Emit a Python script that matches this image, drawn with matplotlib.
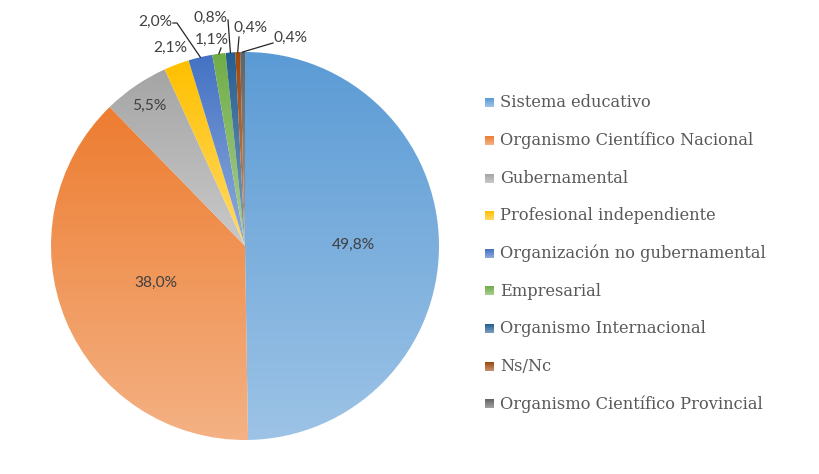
import numpy as np
import matplotlib
matplotlib.use('Agg')
import matplotlib.pyplot as plt
from matplotlib.colors import to_rgb

# datos
categorias = ['Sistema educativo', 'Organismo Científico Nacional', 'Gubernamental',
              'Profesional independiente', 'Organización no gubernamental', 'Empresarial',
              'Organismo Internacional', 'Ns/Nc', 'Organismo Científico Provincial']
valores = [49.8, 38.0, 5.5, 2.1, 2.0, 1.1, 0.8, 0.4, 0.4]
etiquetas = ['49,8%', '38,0%', '5,5%', '2,1%', '2,0%', '1,1%', '0,8%', '0,4%', '0,4%']
colores = ['#5B9BD5', '#ED7D31', '#A5A5A5', '#FFC000', '#4472C4', '#70AD47',
           '#255E91', '#9E480E', '#636363']

W, H = 819, 474
CX, CY, R = 245, 246, 194  # centro y radio de la torta en pixeles


def px(x, y):
    # pixel (desde arriba a la izquierda) -> coordenadas del eje de la torta
    return (x - CX) / R, (CY - y) / R


def aclarar(c, f=0.4):
    c = np.array(to_rgb(c))
    return c + (1 - c) * f


def gradiente(c, n=64):
    top = np.array(to_rgb(c))
    bot = aclarar(c)
    t = np.linspace(0, 1, n)[:, None]
    g = top * (1 - t) + bot * t
    return np.repeat(g[:, None, :], 2, axis=1)


fig = plt.figure(figsize=(W / 100, H / 100), dpi=100)
ax = fig.add_axes([(CX - R) / W, (H - CY - R) / H, 2 * R / W, 2 * R / H])
ax.axis('off')

wedges, _ = ax.pie(valores, startangle=90, counterclock=False, radius=1,
                   colors=colores, wedgeprops=dict(linewidth=0))

# relleno degradado (oscuro arriba, claro abajo) como en Excel
for w, c in zip(wedges, colores):
    ext = w.get_path().get_extents()
    im = ax.imshow(gradiente(c), extent=(ext.x0, ext.x1, ext.y0, ext.y1),
                   origin='upper', aspect='auto', interpolation='bilinear', zorder=2)
    im.set_clip_path(w)
    w.set_facecolor('none')
ax.set_xlim(-1, 1)
ax.set_ylim(-1, 1)

lbl_font = dict(family=['Lato', 'DejaVu Sans'], color='#404040', fontsize=10.5)
lbl_textos = []

# etiquetas dentro / cerca de la torta (radio relativo sobre el angulo medio)
r_lbl = [0.56, 0.5, 0.875, 1.09]
for i, r in enumerate(r_lbl):
    w = wedges[i]
    a = np.deg2rad((w.theta1 + w.theta2) / 2)
    lbl_textos.append(ax.text(r * np.cos(a), r * np.sin(a), etiquetas[i],
                              ha='center', va='center', **lbl_font))

# etiquetas de las porciones chicas con lineas guia
pos_lbl = {4: (155, 22), 5: (212, 40), 6: (210, 18), 7: (250, 28), 8: (290, 38)}
guia = {4: [(173, 23), (177, 23)], 5: [(221, 48)], 6: [(228, 20)],
        7: [(239, 37)], 8: [(273, 43)]}
for i, (x, y) in pos_lbl.items():
    lbl_textos.append(ax.text(*px(x, y), etiquetas[i], ha='center', va='center', **lbl_font))
    w = wedges[i]
    a = np.deg2rad((w.theta1 + w.theta2) / 2)
    pts = [px(*p) for p in guia[i]] + [(np.cos(a), np.sin(a))]
    xs, ys = zip(*pts)
    ax.plot(xs, ys, color='#262626', lw=0.9, clip_on=False, zorder=3)

# leyenda dibujada a mano para poder usar el degradado en los cuadrados
lg = fig.add_axes([0, 0, 1, 1], facecolor='none')
lg.set_xlim(0, W)
lg.set_ylim(H, 0)
lg.axis('off')
y0, paso = 102.7, 37.66
leg_font = dict(family=['DejaVu Serif'], color='#595959', va='center', ha='left')
textos = []
for i, (cat, c) in enumerate(zip(categorias, colores)):
    y = y0 + i * paso
    im = lg.imshow(gradiente(c, 16), extent=(484.5, 493.5, y + 4.5, y - 4.5),
                   origin='upper', aspect='auto', interpolation='bilinear')
    textos.append(lg.text(500, y, cat, fontsize=11, **leg_font))
lg.set_xlim(0, W)
lg.set_ylim(H, 0)

# ajustar tamaños de letra al ancho medido en la referencia
fig.canvas.draw()
rend = fig.canvas.get_renderer()
fs = 11 * 263 / textos[-1].get_window_extent(rend).width
for t in textos:
    t.set_fontsize(fs)
fs_lbl = 10.5 * 43 / lbl_textos[0].get_window_extent(rend).width
for t in lbl_textos:
    t.set_fontsize(fs_lbl)

fig.savefig('out.png', dpi=100, facecolor='white')
